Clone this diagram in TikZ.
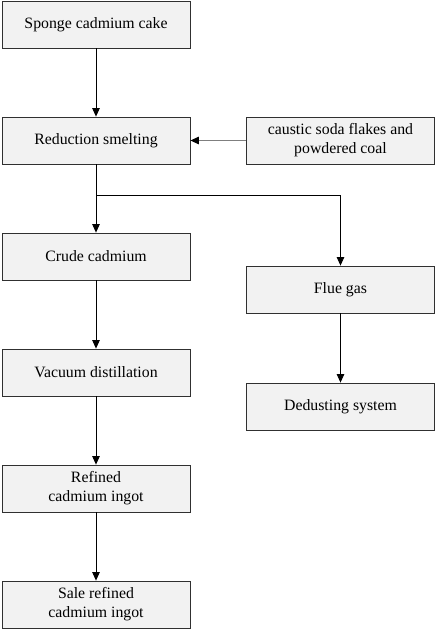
\documentclass[tikz,border=0pt]{standalone}
\usepackage{fontspec}
\setmainfont{Liberation Serif}
\usepackage{tikz}
\usetikzlibrary{arrows.meta}
\definecolor{boxfill}{HTML}{F2F2F2}
\definecolor{boxline}{HTML}{303030}
\definecolor{feedgray}{HTML}{7F7F7F}
\tikzset{
  >={Triangle[length=8.5pt,width=7.5pt]},
  every picture/.style={line join=miter},
}

\begin{document}
\begin{tikzpicture}[x=1pt, y=-1pt,
  stage/.style={draw=boxline, fill=boxfill, line width=0.8pt,
    minimum width=188pt, minimum height=47pt, inner sep=0pt,
    align=center, font=\fontsize{15.8}{19}\selectfont},
  flow/.style={->, black, line width=0.8pt},
  feed/.style={-{Triangle[length=8.5pt,width=7.5pt,color=black]},
    feedgray, line width=1.2pt},
]
\useasboundingbox (0,0) rectangle (436,631);
% ------------------------------------------------------------- main line
\node[stage] (sponge)  at (96,24.5)  {Sponge cadmium cake};
\node[stage] (smelt)   at (96,140.5) {Reduction smelting};
\node[stage] (crude)   at (96,256.5) {Crude cadmium};
\node[stage] (vacuum)  at (96,372.5) {Vacuum distillation};
\node[stage] (refined) at (96,488.5) {Refined\\cadmium ingot};
\node[stage] (sale)    at (96,604.5) {Sale refined\\cadmium ingot};
% ------------------------------------------------------------- side line
\node[stage] (caustic) at (340.5,140.5) {caustic soda flakes and\\powdered coal};
\node[stage] (flue)    at (340.5,289.5) {Flue gas};
\node[stage] (dedust)  at (340.5,406.5) {Dedusting system};
\coordinate (split) at (96,195);

\draw[flow] (sponge) -- (smelt);
\draw[feed] (caustic) -- (smelt);
\draw[flow] (smelt) -- (crude);
\draw[flow] (split) -| (flue);
\draw[flow] (crude) -- (vacuum);
\draw[flow] (vacuum) -- (refined);
\draw[flow] (refined) -- (sale);
\draw[flow] (flue) -- (dedust);
\end{tikzpicture}
\end{document}
